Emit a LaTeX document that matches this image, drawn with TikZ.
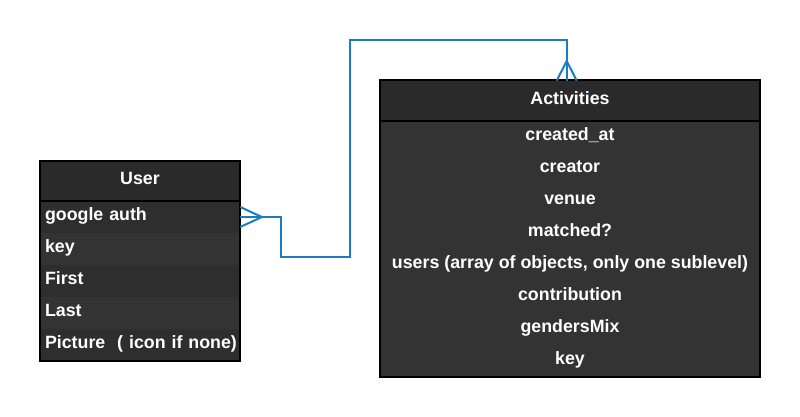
\documentclass[tikz,border=0pt]{standalone}
\usepackage{fontspec}
\setmainfont{Liberation Sans}
\definecolor{hdrc}{HTML}{2A2A2A}
\definecolor{rowa}{HTML}{333333}
\definecolor{rowb}{HTML}{2E2E2E}
\definecolor{linkc}{HTML}{1A7DC0}
\begin{document}
\begin{tikzpicture}[x=1pt,y=-1pt,
  cell/.style={inner sep=0pt, text=white, font=\fontsize{17.8pt}{20pt}\bfseries\selectfont,
    text height=12pt, text depth=5pt},
  uhdr/.style={cell, fill=hdrc, minimum width=200pt, minimum height=40pt},
  urow/.style={cell, minimum height=32pt, inner xsep=5pt, text width=190pt, align=left},
  ahdr/.style={cell, fill=hdrc, minimum width=380pt, minimum height=40pt},
  arow/.style={cell, fill=rowa, minimum height=32pt, minimum width=380pt},
  border/.style={draw=black, line width=2pt},
  linkline/.style={draw=linkc, line width=2pt}]
\useasboundingbox[fill=white] (0,0) rectangle (800,417);

% bend points of the connector
\coordinate (bend1) at (280.7,256.7);
\coordinate (bend2) at (350,40);
\coordinate (actin) at (566.7,80.7);

% User table
\node[uhdr] (user) at (140,181) {User};
\node[urow, fill=rowb] (ugoogle) at (140,217) {google auth};
\node[urow, fill=rowa] (ukey) at (140,249) {key};
\node[urow, fill=rowb] (ufirst) at (140,281) {First};
\node[urow, fill=rowa] (ulast) at (140,313) {Last};
\node[urow, fill=rowb] (upic) at (140,345) {\makebox[190pt][l]{Picture\ \ ( icon if none)}};
\draw[border] (user.north west) rectangle (upic.south east);
\draw[border] (user.south west) -- (user.south east);

% Activities table
\node[ahdr] (act) at (570,100.7) {Activities};
\node[arow] (acreated) at (570,136.7) {created\_at};
\node[arow] (acreator) at (570,168.7) {creator};
\node[arow] (avenue) at (570,200.7) {venue};
\node[arow] (amatched) at (570,232.7) {matched?};
\node[arow] (ausers) at (570,264.7) {users (array of objects, only one sublevel)};
\node[arow] (acontrib) at (570,296.7) {contribution};
\node[arow] (agender) at (570,328.7) {gendersMix};
\node[arow] (akey) at (570,360.7) {key};
\draw[border] (act.north west) rectangle (akey.south east);
\draw[border] (act.south west) -- (act.south east);

% relation line with crow's feet
\draw[linkline] (ugoogle.east) -| (bend1) -| (bend2) -| (actin);
\draw[linkline] ([yshift=10pt]ugoogle.east) -- ([xshift=21.7pt]ugoogle.east) -- ([yshift=-10pt]ugoogle.east);
\draw[linkline] ([xshift=-10pt]actin) -- ([yshift=19.7pt]actin) -- ([xshift=10pt]actin);
\end{tikzpicture}
\end{document}
